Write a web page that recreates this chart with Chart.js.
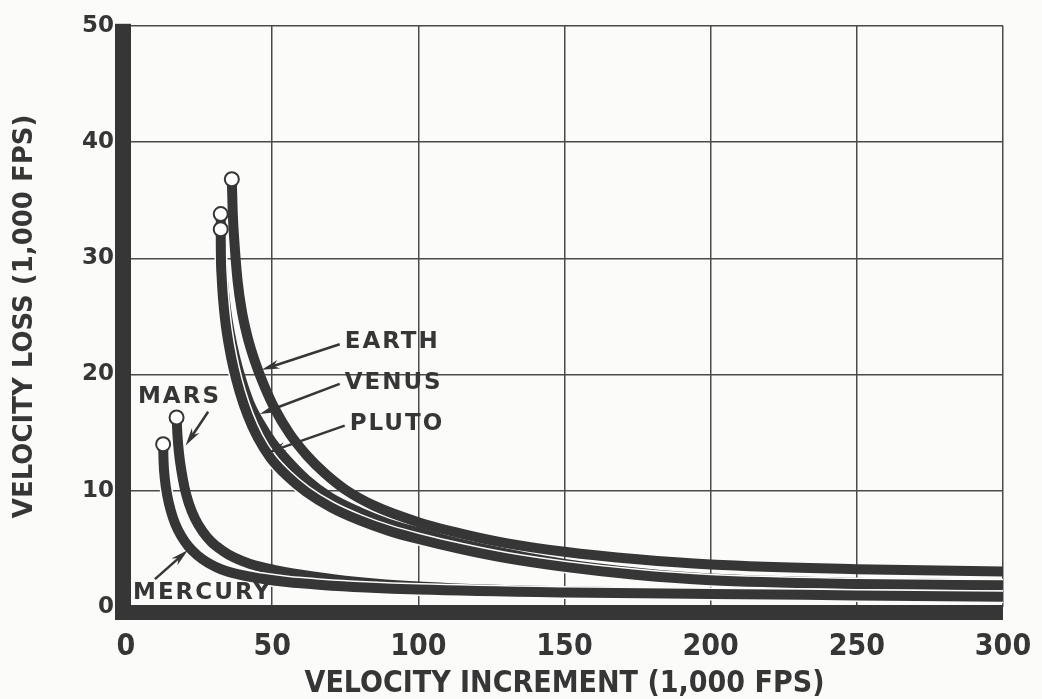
<!DOCTYPE html>
<html>
<head>
<meta charset="utf-8">
<script src="https://cdn.jsdelivr.net/npm/chart.js@4.4.1/dist/chart.umd.min.js"></script>
<style>
  html, body { margin: 0; padding: 0; background: #fbfbf9; }
  #wrap { width: 1042px; height: 699px; }
</style>
</head>
<body>
<div id="wrap"><canvas id="chart" width="1042" height="699"></canvas></div>
<script>
// values (1,000 fps)
const xTicks = [0, 50, 100, 150, 200, 250, 300];
const yTicks = [0, 10, 20, 30, 40, 50];

const earth = [
  [36.2, 36.8], [36.5, 34], [37.2, 31], [38.2, 28], [39.6, 25.5], [41.5, 23.3],
  [44, 21.2], [47, 19.2], [51, 17], [56, 14.9], [62, 13], [68, 11.5], [75, 10.1],
  [85, 8.7], [100, 7.3], [115, 6.3], [130, 5.5], [150, 4.75], [175, 4.1],
  [200, 3.65], [250, 3.25], [300, 3.05]
];
const venus = [
  [32.4, 33.8], [32.5, 31.5], [32.8, 29.5], [33.4, 27.5], [34.3, 25.5], [35.6, 23.5],
  [37.3, 21.5], [39.5, 19.5], [42.3, 17.5], [45.8, 15.8], [50, 14.15], [55, 12.65],
  [61.7, 10.95], [70, 9.4], [80, 8.15], [90, 7.15], [100, 6.42], [115, 5.4], [130, 4.6],
  [150, 3.7], [175, 2.95], [200, 2.45], [250, 2.08], [300, 1.95]
];
const pluto = [
  [32.4, 32.5], [32.45, 30.5], [32.7, 28.5], [33.2, 26.5], [34.0, 24.5], [35.2, 22.5],
  [36.8, 20.5], [38.9, 18.5], [41.6, 16.5], [45, 14.6], [49.5, 12.8], [55, 11.3],
  [61.7, 9.9], [70, 8.6], [80, 7.45], [90, 6.55], [100, 5.85], [115, 4.95], [130, 4.2],
  [150, 3.45], [175, 2.75], [200, 2.3], [250, 1.98], [300, 1.87]
];
const mars = [
  [17.3, 16.3], [17.6, 14.8], [18.1, 13.3], [18.9, 11.8], [20.0, 10.3], [21.5, 8.9],
  [23.6, 7.6], [26.2, 6.5], [29.2, 5.6], [32.7, 4.9], [37, 4.25], [42.5, 3.7],
  [50.5, 3.2], [60, 2.78], [75, 2.27], [94, 1.86], [125, 1.5], [150, 1.35],
  [200, 1.18], [250, 1.05], [300, 0.95]
];
const mercury = [
  [12.7, 14], [12.85, 12.5], [13.3, 11], [14.1, 9.6], [15.3, 8.3], [16.9, 7.1],
  [18.9, 6.1], [21.4, 5.2], [24.4, 4.45], [28, 3.8], [32.5, 3.25], [38.5, 2.8],
  [46, 2.45], [55, 2.15], [67, 1.9], [82, 1.68], [100, 1.5], [150, 1.25],
  [200, 1.12], [250, 1.0], [300, 0.88]
];

// curve names with label anchor and arrow (data coords)
const curveLabels = [
  { text: 'EARTH',   x: 74.8, y: 22.8, from: [73.1, 22.6], to: [46.4, 20.4] },
  { text: 'VENUS',   x: 74.8, y: 19.3, from: [73.1, 19.2], to: [45.8, 16.6] },
  { text: 'PLUTO',   x: 76.5, y: 15.7, from: [74.8, 15.6], to: [48.6, 13.3] },
  { text: 'MARS',    x: 4.1,  y: 18.1, from: [28.1, 16.8], to: [20.4, 13.9] },
  { text: 'MERCURY', x: 2.4,  y: 1.2,  from: [9.9, 2.4],   to: [21.2, 4.9] }
];

const INK = '#363636';
const PAPER = '#fbfbf9';
const toXY = arr => arr.map(p => ({ x: p[0], y: p[1] }));

function curve(label, pts, order) {
  return {
    label,
    order,
    data: toXY(pts),
    borderColor: INK,
    borderWidth: 10,
    borderCapStyle: 'butt',
    cubicInterpolationMode: 'monotone',
    pointRadius: ctx => ctx.dataIndex === 0 ? 7 : 0,
    pointHoverRadius: 0,
    pointBackgroundColor: '#ffffff',
    pointBorderColor: INK,
    pointBorderWidth: 2,
    fill: false
  };
}

// thin paper-coloured edge so touching curves stay apart, as in the print
function halo(label, pts, order) {
  return {
    label: label + ' edge',
    order,
    data: toXY(pts),
    borderColor: PAPER,
    borderWidth: 13,
    borderCapStyle: 'butt',
    cubicInterpolationMode: 'monotone',
    pointRadius: 0,
    pointHoverRadius: 0,
    fill: false
  };
}

function arrow(ctx, x1, y1, x2, y2) {
  const ang = Math.atan2(y2 - y1, x2 - x1);
  const c = Math.cos(ang), s = Math.sin(ang);
  const len = 18, half = 4.5;
  ctx.beginPath();
  ctx.moveTo(x1, y1);
  ctx.lineTo(x2 - c * len * 0.6, y2 - s * len * 0.6);
  ctx.stroke();
  ctx.beginPath();
  ctx.moveTo(x2, y2);
  ctx.lineTo(x2 - c * len - s * half, y2 - s * len + c * half);
  ctx.lineTo(x2 - c * len * 0.7, y2 - s * len * 0.7);
  ctx.lineTo(x2 - c * len + s * half, y2 - s * len - c * half);
  ctx.closePath();
  ctx.fill();
}

const framePlugin = {
  id: 'frame',
  beforeDatasetsDraw(chart) {
    const { ctx, chartArea: a } = chart;
    ctx.save();
    ctx.fillStyle = INK;
    ctx.fillRect(a.left - 11, a.top - 2, 16, a.bottom - a.top + 15);
    ctx.fillRect(a.left - 11, a.bottom - 2, a.right - a.left + 11, 15);
    ctx.restore();
  },
  afterDatasetsDraw(chart) {
    const { ctx, scales: { x, y } } = chart;
    ctx.save();
    ctx.fillStyle = INK;
    ctx.strokeStyle = INK;
    ctx.lineWidth = 2.5;
    ctx.font = 'bold 23px "DejaVu Sans"';
    ctx.letterSpacing = '2px';
    ctx.textBaseline = 'middle';
    curveLabels.forEach(l => {
      ctx.fillText(l.text, x.getPixelForValue(l.x), y.getPixelForValue(l.y));
      arrow(ctx,
        x.getPixelForValue(l.from[0]), y.getPixelForValue(l.from[1]),
        x.getPixelForValue(l.to[0]), y.getPixelForValue(l.to[1]));
    });
    ctx.restore();
  }
};

new Chart(document.getElementById('chart'), {
  type: 'line',
  data: {
    datasets: [
      curve('Earth', earth, 7),
      curve('Venus', venus, 6),
      halo('Pluto', pluto, 5),
      curve('Pluto', pluto, 4),
      curve('Mars', mars, 3),
      halo('Mercury', mercury, 2),
      curve('Mercury', mercury, 1)
    ]
  },
  options: {
    responsive: false,
    devicePixelRatio: 1,
    animation: false,
    parsing: false,
    layout: { padding: { top: 17, right: 39, left: 0, bottom: 0 } },
    plugins: { legend: { display: false }, tooltip: { enabled: false } },
    scales: {
      x: {
        type: 'linear',
        min: xTicks[0],
        max: xTicks[xTicks.length - 1],
        afterBuildTicks: s => { s.ticks = xTicks.map(v => ({ value: v })); },
        afterFit: s => { s.height = 92; s.paddingRight = 0; },
        grid: { color: '#4a4a4a', lineWidth: 1.5, drawTicks: true, tickLength: 20, tickColor: 'rgba(0,0,0,0)' },
        border: { display: false },
        ticks: {
          color: INK,
          padding: 2,
          maxRotation: 0,
          font: { family: '"DejaVu Sans Condensed", "DejaVu Sans"', size: 30, weight: 'bold' }
        },
        title: {
          display: true,
          text: 'VELOCITY INCREMENT (1,000 FPS)',
          color: INK,
          padding: { top: 0, bottom: 0 },
          font: { family: '"DejaVu Sans Condensed", "DejaVu Sans"', size: 30, weight: 'bold', lineHeight: 1 }
        }
      },
      y: {
        type: 'linear',
        min: yTicks[0],
        max: yTicks[yTicks.length - 1],
        afterBuildTicks: s => { s.ticks = yTicks.map(v => ({ value: v })); },
        afterFit: s => { s.width = 126; },
        grid: { color: '#4a4a4a', lineWidth: 1.5, drawTicks: false },
        border: { display: false },
        ticks: {
          color: INK,
          padding: 12,
          font: { family: '"DejaVu Sans"', size: 23, weight: 'bold' }
        },
        title: {
          display: true,
          text: 'VELOCITY LOSS (1,000 FPS)',
          color: INK,
          padding: { top: 12, bottom: 0 },
          font: { family: '"DejaVu Sans"', size: 26, weight: 'bold', lineHeight: 1 }
        }
      }
    }
  },
  plugins: [framePlugin]
});
</script>
</body>
</html>
